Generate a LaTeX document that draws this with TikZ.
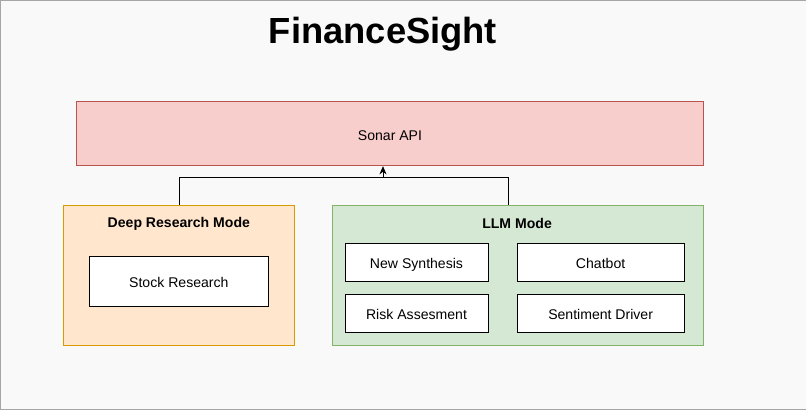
\documentclass[tikz,border=0pt]{standalone}
\usepackage{fontspec}
\setmainfont{Liberation Sans}
\usetikzlibrary{positioning, arrows.meta}
\tikzset{> = stealth}
\definecolor{redfill}{HTML}{F8CECC}\definecolor{redline}{HTML}{B85450}
\definecolor{orfill}{HTML}{FFE6CC}\definecolor{orline}{HTML}{D79B00}
\definecolor{grfill}{HTML}{D5E8D4}\definecolor{grline}{HTML}{82B366}
\tikzset{
  blk/.style = {draw, semithick, inner sep=0pt, text height=2.0ex, text depth=0ex, font=\fontsize{12}{14}\selectfont},
  item/.style = {blk, fill=white, draw=black},
}
\begin{document}
\begin{tikzpicture}[x=0.03cm, y=-0.03cm]
% frame
\draw[gray!70, fill=gray!5] (0.5,0.5) rectangle (805.5,409.5);
\node[font=\fontsize{31}{34}\selectfont\bfseries] (title) at (383,34) {FinanceSight};
% boxes
\node[blk, fill=redfill, draw=redline, minimum width=626*0.03cm, minimum height=64*0.03cm] (sonar) at (390,134) {Sonar API};
\node[blk, fill=orfill, draw=orline, minimum width=230*0.03cm, minimum height=140*0.03cm] (deep) at (179,275) {};
\node[font=\fontsize{12}{14}\selectfont\bfseries] (deept) at (179,224) {Deep Research Mode};
\node[item, minimum width=178*0.03cm, minimum height=50*0.03cm] (stock) at (179,281) {Stock Research};
\node[blk, fill=grfill, draw=grline, minimum width=371*0.03cm, minimum height=140*0.03cm] (llm) at (517.5,275) {};
\node[font=\fontsize{12}{14}\selectfont\bfseries] (llmt) at (517,224) {LLM Mode};
\node[item, minimum width=143*0.03cm, minimum height=38*0.03cm] (news) at (416.5,262) {New Synthesis};
\node[item, minimum width=167*0.03cm, minimum height=38*0.03cm] (chat) at (600.5,262) {Chatbot};
\node[item, minimum width=143*0.03cm, minimum height=38*0.03cm] (risk) at (416.5,313) {Risk Assesment};
\node[item, minimum width=167*0.03cm, minimum height=38*0.03cm] (senti) at (600.5,313) {Sentiment Driver};
% edges
\coordinate (j) at (383,178);
\coordinate (lt) at (508,205);
\draw[semithick] (deep.north) |- (j) -| (lt);
\draw[->, semithick, >={Stealth[length=7pt,width=6pt]}] (j) -- (sonar.south -| j);
\end{tikzpicture}
\end{document}
